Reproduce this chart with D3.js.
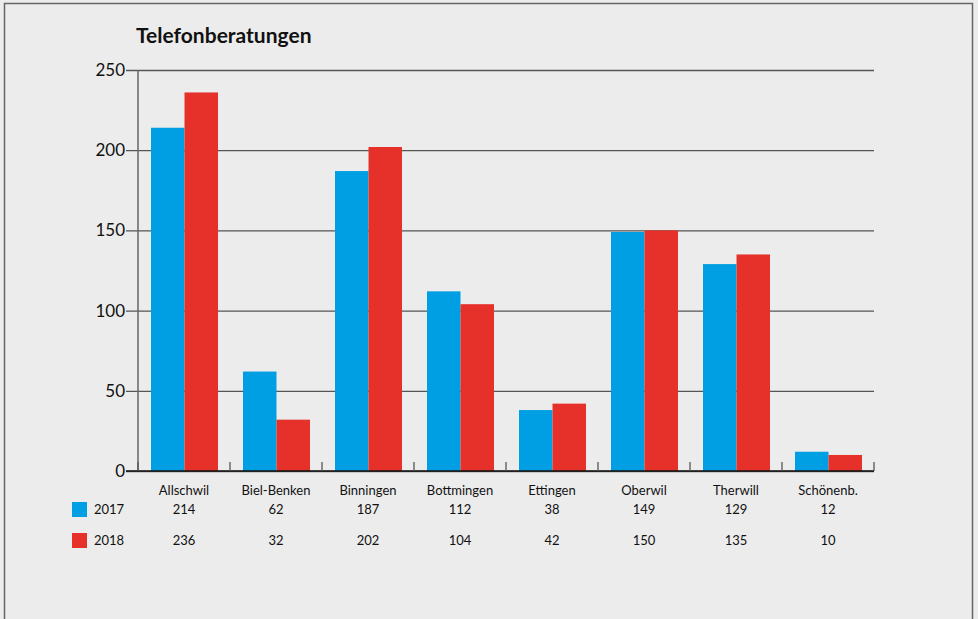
<!DOCTYPE html>
<html>
<head>
<meta charset="utf-8">
<script src="https://cdn.jsdelivr.net/npm/d3@7"></script>
<style>
  body { margin: 0; background: #ececec; }
  svg { display: block; font-family: Lato, "Open Sans", sans-serif; }
</style>
</head>
<body>
<svg id="chart" width="978" height="619"></svg>
<script>
// data
var categories = ["Allschwil", "Biel-Benken", "Binningen", "Bottmingen", "Ettingen", "Oberwil", "Therwill", "Schönenb."];
var years = ["2017", "2018"];
var values2017 = [214, 62, 187, 112, 38, 149, 129, 12];
var values2018 = [236, 32, 202, 104, 42, 150, 135, 10];
var yTicks = [0, 50, 100, 150, 200, 250];
var colors = ["#009fe3", "#e6302a"];

var svg = d3.select("#chart");

// frame
svg.append("rect")
  .attr("x", 4.5).attr("y", 3.5)
  .attr("width", 968).attr("height", 640)
  .attr("fill", "#ececec")
  .attr("stroke", "#666").attr("stroke-width", 1.5);

var margin = {left: 138, top: 70};
var width = 874 - 138, height = 471 - 70;

var g = svg.append("g")
  .attr("transform", "translate(" + margin.left + "," + margin.top + ")");

// title
svg.append("text")
  .attr("x", 136).attr("y", 43)
  .attr("font-size", "21px")
  .attr("font-weight", "bold")
  .attr("fill", "#111")
  .text("Telefonberatungen");

var x = d3.scaleBand().domain(categories).range([0, width]).paddingInner(0).paddingOuter(0);
var x1 = d3.scaleBand().domain(years).range([13, x.bandwidth() - 12]);
var y = d3.scaleLinear().domain([0, 250]).range([height, 0]);

// gridlines + y labels
var yAxis = g.append("g")
  .call(d3.axisLeft(y).tickValues(yTicks).tickSize(-width).tickPadding(13).tickSizeOuter(0));
yAxis.select(".domain").remove();
yAxis.selectAll(".tick line")
  .attr("x1", -12)
  .attr("stroke", "#555").attr("stroke-width", 1.3);
yAxis.selectAll(".tick text")
  .attr("font-size", "17px").attr("fill", "#111")
  .attr("font-family", "Lato, sans-serif");

// y axis line
g.append("line")
  .attr("x1", 0).attr("x2", 0).attr("y1", 0).attr("y2", height)
  .attr("stroke", "#666").attr("stroke-width", 1.5);

// bars
var rows = categories.map(function(c, i) {
  return {cat: c, vals: [values2017[i], values2018[i]]};
});

var grp = g.selectAll(".grp").data(rows).enter().append("g")
  .attr("transform", function(d) { return "translate(" + x(d.cat) + ",0)"; });

grp.selectAll("rect")
  .data(function(d) { return d.vals.map(function(v, j) { return {year: years[j], v: v, j: j}; }); })
  .enter().append("rect")
  .attr("x", function(d) { return x1(d.year); })
  .attr("width", x1.bandwidth())
  .attr("y", function(d) { return y(d.v); })
  .attr("height", function(d) { return height - y(d.v); })
  .attr("fill", function(d) { return colors[d.j]; });

// x axis
g.append("line")
  .attr("x1", -12).attr("x2", width).attr("y1", height).attr("y2", height)
  .attr("stroke", "#111").attr("stroke-width", 1.5);

var bounds = categories.map(function(c) { return x(c); }).concat([width]);
g.selectAll(".ctick").data(bounds).enter().append("line")
  .attr("x1", function(d) { return d; }).attr("x2", function(d) { return d; })
  .attr("y1", height - 9).attr("y2", height)
  .attr("stroke", "#555").attr("stroke-width", 1.3);

// category labels
g.selectAll(".clab").data(categories).enter().append("text")
  .attr("x", function(d) { return x(d) + x.bandwidth() / 2; })
  .attr("y", height + 24)
  .attr("text-anchor", "middle")
  .attr("font-size", "13px").attr("fill", "#111")
  .text(function(d) { return d; });

// table rows with legend
var tableRows = [values2017, values2018];
var rowY = [509, 540];

tableRows.forEach(function(vals, r) {
  svg.append("rect")
    .attr("x", 72).attr("y", rowY[r] - 7)
    .attr("width", 15).attr("height", 15)
    .attr("fill", colors[r]);
  svg.append("text")
    .attr("x", 94).attr("y", rowY[r] + 5)
    .attr("font-size", "13px").attr("fill", "#111")
    .text(years[r]);
  g.selectAll(".val" + r).data(vals).enter().append("text")
    .attr("x", function(d, i) { return x(categories[i]) + x.bandwidth() / 2; })
    .attr("y", rowY[r] - margin.top + 5)
    .attr("text-anchor", "middle")
    .attr("font-size", "13px").attr("fill", "#111")
    .text(function(d) { return d; });
});
</script>
</body>
</html>
